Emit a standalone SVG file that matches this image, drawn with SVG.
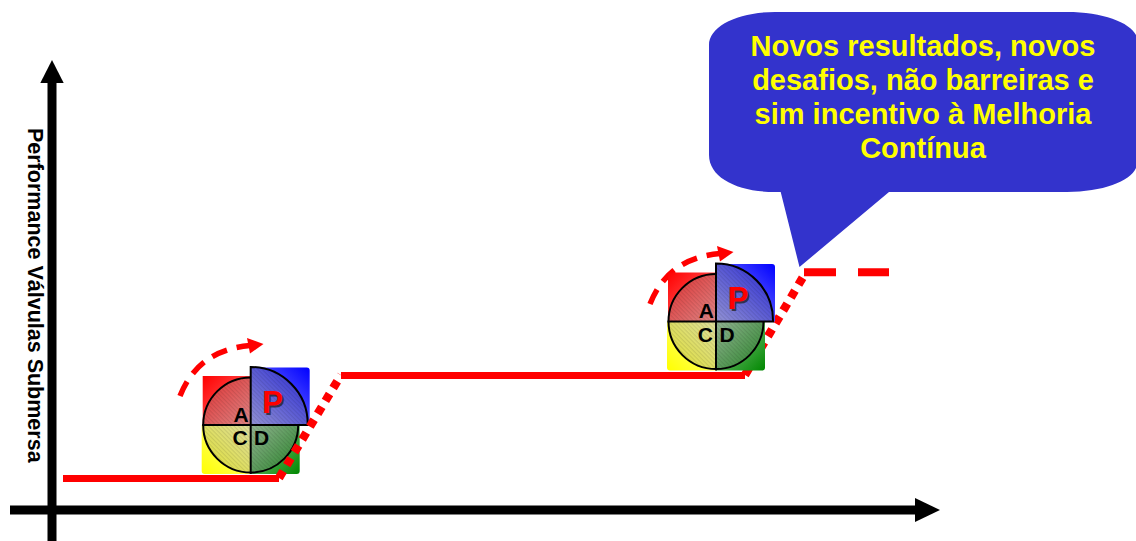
<svg xmlns="http://www.w3.org/2000/svg" width="1136" height="541" viewBox="0 0 1136 541">
<style>
text{font-family:"Liberation Sans",Arial,sans-serif;font-weight:bold}
.lbl{font-size:21px;fill:#000;text-anchor:middle}
.p{font-size:31px;text-anchor:middle}
.call{font-size:29px;fill:#ff0;text-anchor:middle}
.q{stroke:#000;stroke-width:2;stroke-linejoin:miter}
.axis{stroke:#000;stroke-width:9;fill:none}
.solid{stroke:#f00;stroke-width:7;fill:none}
.dot{stroke:#f00;stroke-width:8.500;fill:none;stroke-dasharray:8 7}
.curve{stroke:#f00;stroke-width:5.500;fill:none;stroke-dasharray:16 10}
</style>
<defs>
<linearGradient id="gR" x1="0" y1="0" x2="1" y2="1"><stop offset="0" stop-color="#f00"/><stop offset="1" stop-color="#ff8080"/></linearGradient>
<linearGradient id="gB" x1="1" y1="0" x2="0" y2="1"><stop offset="0" stop-color="#00f"/><stop offset="1" stop-color="#a0a0ff"/></linearGradient>
<linearGradient id="gY" x1="0" y1="1" x2="1" y2="0"><stop offset="0" stop-color="#ff0"/><stop offset="1" stop-color="#ffffa0"/></linearGradient>
<linearGradient id="gG" x1="1" y1="1" x2="0" y2="0"><stop offset="0" stop-color="#080"/><stop offset="1" stop-color="#a0d0a0"/></linearGradient>
<pattern id="hatch" width="3" height="3" patternUnits="userSpaceOnUse" patternTransform="rotate(45)"><rect width="3" height="1.200" fill="#000" fill-opacity=".1"/></pattern>
<g id="shapes">
<path d="M-48-49H0V0H-48Z" fill="url(#gR)"/>
<path d="M0-57.500H56a3 3 0 0 1 3 3V0H0Z" fill="url(#gB)"/>
<path d="M-49 0H0V49H-46a3 3 0 0 1-3-3Z" fill="url(#gY)"/>
<path d="M0 0H49V46a3 3 0 0 1-3 3H0Z" fill="url(#gG)"/>
<path d="M0-47.500A47.500 47.500 0 0 0-47.500 0H0Z" fill="#999" fill-opacity=".3"/>
<path d="M0 47.500A47.500 47.500 0 0 1-47.500 0H0Z" fill="#999" fill-opacity=".3"/>
<path d="M0 47.500A47.500 47.500 0 0 0 47.500 0H0Z" fill="#777" fill-opacity=".3"/>
<path d="M0-57A57 57 0 0 1 57 0H0Z" fill="#777" fill-opacity=".3"/>
<path d="M0-47.500A47.500 47.500 0 0 0-47.500 0H0Z" fill="url(#hatch)"/>
<path d="M0 47.500A47.500 47.500 0 0 1-47.500 0H0Z" fill="url(#hatch)"/>
<path d="M0 47.500A47.500 47.500 0 0 0 47.500 0H0Z" fill="url(#hatch)"/>
<path d="M0-57A57 57 0 0 1 57 0H0Z" fill="url(#hatch)"/>
<path class="q" fill="none" d="M0-47.500A47.500 47.500 0 0 0-47.500 0A47.500 47.500 0 0 0 0 47.500A47.500 47.500 0 0 0 47.500 0"/>
<path class="q" fill="none" d="M0 49V-58A57 57 0 0 1 57 0H-48.500"/>
</g>
</defs>

<g id="pdca-1" transform="translate(250.700 425)">
<use href="#shapes"/>
<text class="lbl" x="-9.700" y="-3.500">A</text>
<text class="lbl" x="-10.700" y="20">C</text>
<text class="lbl" x="11" y="20">D</text>
<text class="p" x="24" y="-10.500" fill="#222" fill-opacity=".75">P</text>
<text class="p" x="22" y="-12.500" fill="#f00">P</text>
</g>

<g id="connectors">
<path class="axis" d="M52 541V80"/>
<path d="M52 60L63.700 83H40.300Z" fill="#000"/>
<path class="axis" d="M10 510H918"/>
<path d="M940 510L915 498V522Z" fill="#000"/>
<path class="solid" d="M63 478.500H279"/>
<path class="dot" d="M279 478L341 375"/>
<path class="solid" d="M341 375.500H745"/>
<path class="dot" d="M745 375L806 272"/>
<path d="M804 272.300H836M858 272.300H889" stroke="#f00" stroke-width="8" fill="none"/>
<path class="curve" d="M180 396Q198 350 250 345.500"/>
<path d="M263.500 344L247 338L250 353.500Z" fill="#f00"/>
<path class="curve" d="M650 304Q668 258 720 253.500"/>
<path d="M733.500 252L717 246L720 261.500Z" fill="#f00"/>
</g>

<g id="pdca-2" transform="translate(716 321.500)">
<use href="#shapes"/>
<text class="lbl" x="-9.700" y="-3.500">A</text>
<text class="lbl" x="-10.700" y="20">C</text>
<text class="lbl" x="11" y="20">D</text>
<text class="p" x="24" y="-10.500" fill="#222" fill-opacity=".75">P</text>
<text class="p" x="22" y="-12.500" fill="#f00">P</text>
</g>

<g id="y-label">
<text transform="translate(27.500 128) rotate(90)" font-size="21.500" fill="#000">Performance Válvulas Submersa</text>
</g>

<g id="callout">
<path d="M775 12H1067C1105 12 1134 24 1137 38V165C1134 180 1105 192 1067 192H889L799.500 267L780.700 192H775C738 192 709 178 709 155V45C709 26 738 12 775 12Z" fill="#33c"/>
<text class="call" x="923" y="56">Novos resultados, novos</text>
<text class="call" x="923" y="90">desafios, não barreiras e</text>
<text class="call" x="923" y="124">sim incentivo à Melhoria</text>
<text class="call" x="923" y="158">Contínua</text>
</g>
</svg>
